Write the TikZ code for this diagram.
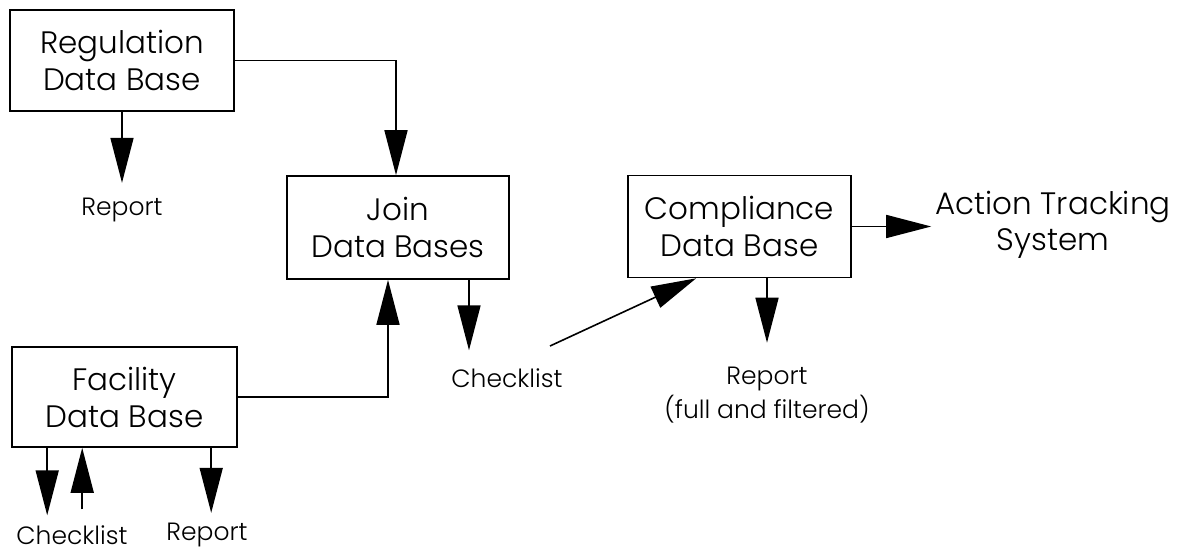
\documentclass[tikz,border=0pt]{standalone}
\usepackage{fontspec}
\setmainfont{Poppins}[UprightFont=* Light]
\usetikzlibrary{arrows.meta,calc}
\begin{document}
\begin{tikzpicture}[x=1pt,y=-1pt,
  box/.style={draw, line width=1.6pt, inner sep=0pt, align=center,
    font=\fontsize{31}{37}\selectfont},
  lbl/.style={inner sep=0pt, align=center, font=\fontsize{25}{34}\selectfont},
  big/.style={inner sep=0pt, align=center, font=\fontsize{31}{36}\selectfont},
  wire/.style={line width=1.6pt},
  arr/.style={wire, -{Triangle[length=45pt,width=23pt]}}]
\useasboundingbox (0,0) rectangle (1190,553);

% data bases and processing step
\node[box, minimum width=224pt, minimum height=101pt] (reg)  at (122,60.5)   {Regulation\\Data Base};
\node[box, minimum width=222pt, minimum height=103pt] (join) at (398,227.5)  {Join\\Data Bases};
\node[box, minimum width=225pt, minimum height=100pt] (fac)  at (124.5,397)  {Facility\\Data Base};
\node[box, minimum width=223pt, minimum height=102pt] (comp) at (739.5,226.5) {Compliance\\Data Base};

% outputs
\node[lbl] (rep1) at (122,210) {Report};
\node[lbl] (chk1) at (507,378) {Checklist};
\node[lbl] (rep3) at (767,395) {Report\\(full and filtered)};
\node[lbl] (chkF) at (72,535)  {Checklist};
\node[lbl] (repF) at (207,535) {Report};
\node[big] (ats)  at (1053,225) {Action Tracking\\System};

% regulation data base
\draw[arr] (reg.east) -| ([xshift=-2pt]join.north);
\draw[arr, shorten >=15pt] (reg.south) -- (reg.south |- rep1.north);

% facility data base
\draw[arr] (fac.east) -| ([xshift=-10pt]join.south);
\coordinate (f1) at ([xshift=36pt]fac.south west);
\coordinate (f2) at ([xshift=71pt]fac.south west);
\coordinate (f3) at ([xshift=200pt]fac.south west);
\coordinate (f2in) at ($(f2 |- chkF.north)+(0,-16)$);
\draw[arr, shorten >=10pt] (f1) -- (f1 |- chkF.north);
\draw[arr] (f2in) -- (f2);
\draw[arr, shorten >=10pt] (f3) -- (f3 |- repF.north);

% joined checklist into the compliance data base
\coordinate (jout) at ([xshift=71pt]join.south);
\draw[arr, shorten >=18pt] (jout) -- (jout |- chk1.north);
\coordinate (chkout) at (550,346);
\coordinate (cin) at ([xshift=69pt]comp.south west);
\draw[arr] (chkout) -- (cin);

% compliance data base outputs
\coordinate (cout) at ([xshift=27.5pt]comp.south);
\draw[arr, shorten >=24pt] (cout) -- (cout |- rep3.north);
\draw[arr, shorten >=4pt] (comp.east) -- (comp.east -| ats.west);
\end{tikzpicture}
\end{document}
